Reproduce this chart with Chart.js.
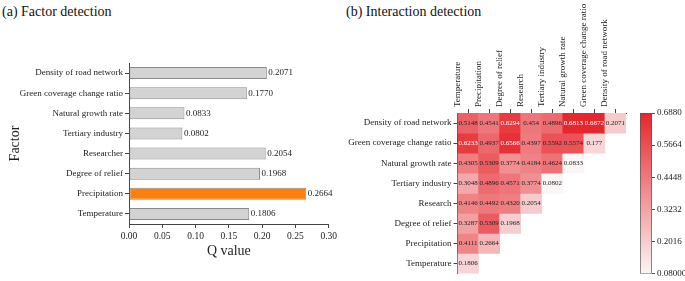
<!DOCTYPE html>
<html>
<head>
<meta charset="utf-8">
<script src="https://cdn.jsdelivr.net/npm/chart.js@4.4.1/dist/chart.umd.min.js"></script>
<style>
body { margin: 0; background: #fff; width: 685px; height: 281px; position: relative; overflow: hidden; font-family: 'Liberation Serif', serif; }
canvas { position: absolute; top: 0; }
.ttl { position: absolute; top: 4px; font-size: 14px; line-height: 16px; color: #111; white-space: nowrap; }
</style>
</head>
<body>
<div class="ttl" style="left:2px">(a) Factor detection</div>
<div class="ttl" style="left:346px">(b) Interaction detection</div>
<canvas id="barQ" style="left:0" width="340" height="281"></canvas>
<canvas id="heatQ" style="left:340px" width="295" height="281"></canvas>
<canvas id="barColor" style="left:600px" width="85" height="281"></canvas>
<script>
Chart.defaults.font.family = "'Liberation Serif', 'Times New Roman', serif";
Chart.defaults.color = '#222';

// (a) factor detection
const factors = ['Density of road network', 'Green coverage change ratio', 'Natural growth rate',
  'Tertiary industry', 'Researcher', 'Degree of relief', 'Precipitation', 'Temperature'];
const qValues = [0.2071, 0.1770, 0.0833, 0.0802, 0.2054, 0.1968, 0.2664, 0.1806];
const xTickMax = 0.3;

// (b) interaction detection
const colLabels = ['Temperature', 'Precipitation', 'Degree of relief', 'Research', 'Tertiary industry',
  'Natural growth rate', 'Green coverage change ratio', 'Density of road network'];
const rowLabels = ['Density of road network', 'Green coverage change ratio', 'Natural growth rate',
  'Tertiary industry', 'Research', 'Degree of relief', 'Precipitation', 'Temperature'];
const interaction = [
  ['0.5148', '0.4541', '0.6294', '0.454', '0.4896', '0.6813', '0.6872', '0.2071'],
  ['0.6233', '0.4937', '0.6566', '0.4397', '0.5592', '0.5574', '0.177'],
  ['0.4305', '0.5309', '0.3774', '0.4184', '0.4624', '0.0833'],
  ['0.3048', '0.4896', '0.4571', '0.3774', '0.0802'],
  ['0.4146', '0.4492', '0.4320', '0.2054'],
  ['0.3287', '0.5309', '0.1968'],
  ['0.4111', '0.2664'],
  ['0.1806']
];
const cbMin = 0.08, cbMax = 0.688;
const cbTicks = [0.08, 0.2016, 0.3232, 0.4448, 0.5664, 0.688];
const cbLabels = ['0.08000', '0.2016', '0.3232', '0.4448', '0.5664', '0.6880'];

function heatColor(v) {
  const t = Math.max(0, Math.min(1, (v - cbMin) / (cbMax - cbMin)));
  const lo = [251, 246, 246], hi = [230, 38, 44];
  return 'rgb(' + lo.map((c, i) => Math.round(c + (hi[i] - c) * t)).join(',') + ')';
}

const axisCol = '#444';

const valueLabels = {
  id: 'valueLabels',
  afterDatasetsDraw(chart) {
    const ctx = chart.ctx;
    ctx.save();
    ctx.font = "9px 'Liberation Serif'";
    ctx.fillStyle = '#222';
    ctx.textAlign = 'left';
    ctx.textBaseline = 'middle';
    chart.getDatasetMeta(0).data.forEach((el, i) => {
      ctx.fillText(qValues[i].toFixed(4), el.x + 1.5, el.y);
    });
    ctx.restore();
  }
};

const cellText = {
  id: 'cellText',
  afterDatasetsDraw(chart) {
    const ctx = chart.ctx;
    ctx.save();
    ctx.font = "7px 'Liberation Serif'";
    ctx.textAlign = 'center';
    ctx.textBaseline = 'middle';
    chart.data.datasets.forEach((ds, di) => {
      chart.getDatasetMeta(di).data.forEach((el, j) => {
        const txt = interaction[di][j];
        const p = el.getCenterPoint();
        ctx.fillStyle = parseFloat(txt) > 0.6 ? '#fff' : '#222';
        ctx.fillText(txt, p.x, p.y);
      });
    });
    ctx.restore();
  }
};

const barQ = new Chart('barQ', {
  type: 'bar',
  data: {
    labels: factors,
    datasets: [{
      data: qValues,
      backgroundColor: factors.map(f => f === 'Precipitation' ? '#ff7f0e' : '#d3d3d3'),
      borderColor: '#8a8a8a',
      borderWidth: 1,
      borderSkipped: false,
      barPercentage: 0.6,
      categoryPercentage: 1
    }]
  },
  options: {
    indexAxis: 'y',
    responsive: false,
    animation: false,
    layout: { padding: { left: 7, top: 63, right: 11, bottom: 21 } },
    plugins: { legend: { display: false }, tooltip: { enabled: false } },
    scales: {
      x: {
        min: 0, max: xTickMax,
        ticks: { stepSize: 0.05, callback: v => v.toFixed(2), font: { size: 9.5 }, padding: 3 },
        grid: { drawOnChartArea: false, tickLength: 4, color: axisCol },
        border: { color: axisCol },
        title: { display: true, text: 'Q value', font: { size: 14 }, padding: 0 },
        afterFit: s => { s.height = 36; }
      },
      y: {
        ticks: { font: { size: 9 }, padding: 2 },
        grid: { offset: false, drawOnChartArea: false, tickLength: 4, color: axisCol },
        border: { color: axisCol },
        title: { display: true, text: 'Factor', font: { size: 14 }, padding: 0 },
        afterFit: s => { s.width = 122; }
      }
    }
  },
  plugins: [valueLabels]
});

const heatQ = new Chart('heatQ', {
  type: 'bar',
  data: {
    labels: colLabels,
    datasets: rowLabels.map((row, r) => ({
      label: row,
      data: interaction[r].map(() => [r, r + 1]),
      backgroundColor: interaction[r].map(s => heatColor(parseFloat(s))),
      borderWidth: 0,
      grouped: false,
      barPercentage: 1,
      categoryPercentage: 1
    }))
  },
  options: {
    responsive: false,
    animation: false,
    layout: { padding: { left: 0, top: 0, right: 9, bottom: 7 } },
    plugins: { legend: { display: false }, tooltip: { enabled: false } },
    scales: {
      x: {
        position: 'top',
        ticks: { minRotation: 90, maxRotation: 90, autoSkip: false, font: { size: 9 }, padding: 2 },
        grid: { offset: false, drawOnChartArea: false, tickLength: 4, color: axisCol },
        border: { color: axisCol },
        afterFit: s => { s.height = 113; }
      },
      y: {
        type: 'linear',
        min: 0, max: rowLabels.length,
        reverse: true,
        afterBuildTicks: s => { s.ticks = rowLabels.map((_, i) => ({ value: i + 0.5 })); },
        ticks: { callback: (v, i) => rowLabels[i], font: { size: 9 }, padding: 2 },
        grid: { drawOnChartArea: false, tickLength: 4, color: axisCol },
        border: { color: axisCol },
        afterFit: s => { s.width = 117.5; }
      }
    }
  },
  plugins: [cellText]
});

const barColor = new Chart('barColor', {
  type: 'bar',
  data: {
    labels: [''],
    datasets: [{
      data: [[cbMin, cbMax]],
      backgroundColor: c => {
        const area = c.chart.chartArea;
        if (!area) return heatColor(cbMax);
        const y = c.chart.scales.y;
        const g = c.chart.ctx.createLinearGradient(0, y.getPixelForValue(cbMin), 0, y.getPixelForValue(cbMax));
        for (let k = 0; k <= 10; k++) {
          g.addColorStop(k / 10, heatColor(cbMin + (cbMax - cbMin) * k / 10));
        }
        return g;
      },
      borderColor: '#555',
      borderWidth: 1,
      borderSkipped: false,
      barPercentage: 1,
      categoryPercentage: 1
    }]
  },
  options: {
    responsive: false,
    animation: false,
    layout: { padding: { left: 40, top: 113, right: 0, bottom: 7 } },
    plugins: { legend: { display: false }, tooltip: { enabled: false } },
    scales: {
      x: { display: false },
      y: {
        position: 'right',
        min: cbMin, max: cbMax,
        afterBuildTicks: s => { s.ticks = cbTicks.map(v => ({ value: v })); },
        ticks: { callback: (v, i) => cbLabels[i], font: { size: 9 }, padding: 2 },
        grid: { drawOnChartArea: false, tickLength: 3, color: '#555' },
        border: { display: false },
        afterFit: s => { s.width = 33; }
      }
    }
  }
});
</script>
</body>
</html>
